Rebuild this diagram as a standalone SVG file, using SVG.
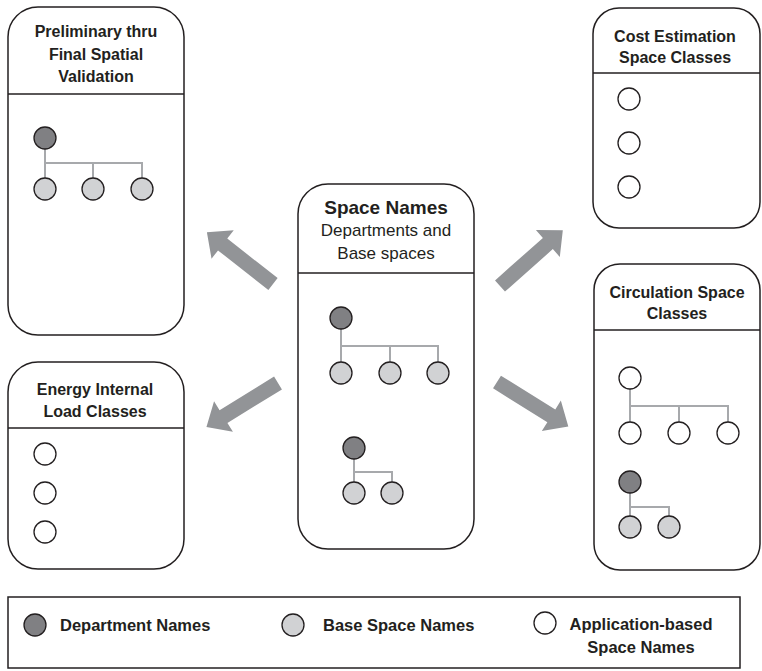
<svg xmlns="http://www.w3.org/2000/svg" xmlns:xlink="http://www.w3.org/1999/xlink" width="762" height="671" viewBox="0 0 762 671">
<style>
.box{fill:#fff;stroke:#231f20;stroke-width:1.5}
.div{stroke:#231f20;stroke-width:1.5}
.t{font-family:"Liberation Sans",Arial,sans-serif;font-size:16px;font-weight:bold;fill:#231f20;text-anchor:middle}
.tr{font-family:"Liberation Sans",Arial,sans-serif;font-size:17px;fill:#231f20;text-anchor:middle}
.tbig{font-family:"Liberation Sans",Arial,sans-serif;font-size:19px;font-weight:bold;fill:#231f20;text-anchor:middle}
.lg{font-family:"Liberation Sans",Arial,sans-serif;font-size:16.5px;font-weight:bold;fill:#231f20}
.dk{fill:#808083;stroke:#231f20;stroke-width:1.3}
.lt{fill:#d1d2d4;stroke:#231f20;stroke-width:1.3}
.op{fill:#fff;stroke:#231f20;stroke-width:1.3}
.ln{fill:none;stroke:#a7a9ac;stroke-width:2}
.arr{fill:#929497}
</style>
<defs>
<polygon id="arrow" points="0,-7.5 64,-7.5 64,-18 84,0 64,18 64,7.5 0,7.5"/>
</defs>
<rect width="762" height="671" fill="#fff"/>

<g id="prelim">
<rect class="box" x="8" y="7" width="176" height="328" rx="30"/>
<line class="div" x1="8" y1="94" x2="184" y2="94"/>
<text class="t" x="96" y="37">Preliminary thru</text>
<text class="t" x="96" y="60">Final Spatial</text>
<text class="t" x="96" y="82">Validation</text>
<path class="ln" d="M45,138V189M45,163H142V189M93,163V189"/>
<circle class="dk" cx="45" cy="138" r="11"/>
<circle class="lt" cx="45" cy="189" r="11"/>
<circle class="lt" cx="93" cy="189" r="11"/>
<circle class="lt" cx="142" cy="189" r="11"/>
</g>

<g id="energy">
<rect class="box" x="8" y="362" width="176" height="207" rx="30"/>
<line class="div" x1="8" y1="428" x2="184" y2="428"/>
<text class="t" x="95" y="395">Energy Internal</text>
<text class="t" x="95" y="417">Load Classes</text>
<circle class="op" cx="45" cy="454" r="11"/>
<circle class="op" cx="45" cy="493" r="11"/>
<circle class="op" cx="45" cy="532" r="11"/>
</g>

<g id="spacenames">
<rect class="box" x="298" y="184" width="176" height="365" rx="30"/>
<line class="div" x1="298" y1="273" x2="474" y2="273"/>
<text class="tbig" x="386" y="214">Space Names</text>
<text class="tr" x="386" y="236">Departments and</text>
<text class="tr" x="386" y="259">Base spaces</text>
<path class="ln" d="M341,318V373M341,346H438V373M390,346V373"/>
<circle class="dk" cx="341" cy="318" r="11"/>
<circle class="lt" cx="341" cy="373" r="11"/>
<circle class="lt" cx="390" cy="373" r="11"/>
<circle class="lt" cx="438" cy="373" r="11"/>
<path class="ln" d="M354,448V493M354,472H392V493"/>
<circle class="dk" cx="354" cy="448" r="11"/>
<circle class="lt" cx="354" cy="493" r="11"/>
<circle class="lt" cx="392" cy="493" r="11"/>
</g>

<g id="cost">
<rect class="box" x="593" y="8" width="167" height="220" rx="26"/>
<line class="div" x1="593" y1="73" x2="760" y2="73"/>
<text class="t" x="675" y="42">Cost Estimation</text>
<text class="t" x="675" y="63">Space Classes</text>
<circle class="op" cx="629" cy="99" r="11"/>
<circle class="op" cx="629" cy="143" r="11"/>
<circle class="op" cx="629" cy="187" r="11"/>
</g>

<g id="circulation">
<rect class="box" x="594" y="264" width="166" height="306" rx="26"/>
<line class="div" x1="594" y1="330" x2="760" y2="330"/>
<text class="t" x="677" y="298">Circulation Space</text>
<text class="t" x="677" y="319">Classes</text>
<path class="ln" d="M630,378V433M630,406H728V433M679,406V433"/>
<circle class="op" cx="630" cy="378" r="11"/>
<circle class="op" cx="630" cy="433" r="11"/>
<circle class="op" cx="679" cy="433" r="11"/>
<circle class="op" cx="728" cy="433" r="11"/>
<path class="ln" d="M630,482V527M630,507H669V527"/>
<circle class="dk" cx="630" cy="482" r="11"/>
<circle class="lt" cx="630" cy="527" r="11"/>
<circle class="lt" cx="669" cy="527" r="11"/>
</g>

<g id="connectors">
<use xlink:href="#arrow" class="arr" transform="translate(273,284) rotate(218.1)"/>
<use xlink:href="#arrow" class="arr" transform="translate(278,383) rotate(148.4)"/>
<use xlink:href="#arrow" class="arr" transform="translate(500,286) rotate(-41.6)"/>
<use xlink:href="#arrow" class="arr" transform="translate(497,382) rotate(31.9)"/>
</g>

<g id="legend">
<rect x="8" y="597" width="732" height="71" fill="#fff" stroke="#231f20" stroke-width="1.5"/>
<circle class="dk" cx="35" cy="625" r="11"/>
<text class="lg" x="60" y="631">Department Names</text>
<circle class="lt" cx="293" cy="625" r="11"/>
<text class="lg" x="323" y="631">Base Space Names</text>
<circle class="op" cx="545" cy="623" r="11"/>
<text class="lg" x="641" y="630" text-anchor="middle">Application-based</text>
<text class="lg" x="641" y="653" text-anchor="middle">Space Names</text>
</g>
</svg>
